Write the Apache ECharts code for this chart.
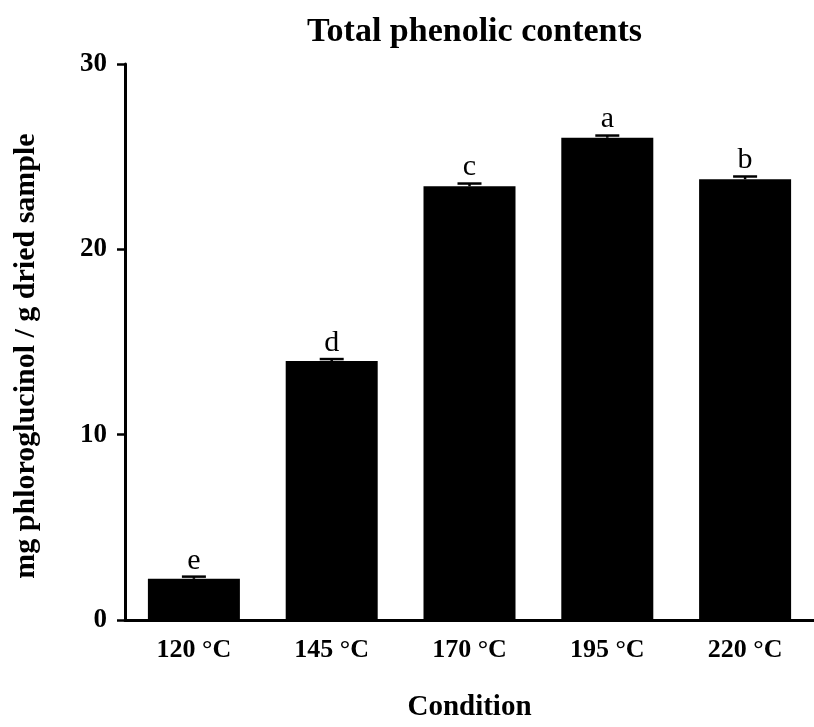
<!DOCTYPE html>
<html>
<head>
<meta charset="utf-8">
<script src="https://cdn.jsdelivr.net/npm/echarts@6/dist/echarts.min.js"></script>
<style>
html,body{margin:0;padding:0;background:#fff;}
#chart{width:814px;height:727px;}
</style>
</head>
<body>
<div id="chart"></div>
<script>
var categories = ['120 \u00B0C', '145 \u00B0C', '170 \u00B0C', '195 \u00B0C', '220 \u00B0C'];
var means = [2.22, 13.97, 23.40, 26.02, 23.78];
var errors = [0.12, 0.11, 0.15, 0.12, 0.15];
var letters = ['e', 'd', 'c', 'a', 'b'];
var yTicks = [0, 10, 20, 30];

var serif = '"Liberation Serif", "Times New Roman", serif';
var chart = echarts.init(document.getElementById('chart'));

var errData = means.map(function (m, i) { return [i, m, errors[i], letters[i]]; });

chart.setOption({
  animation: false,
  backgroundColor: '#fff',
  title: {
    text: 'Total phenolic contents',
    left: 302, top: 10,
    textStyle: { fontFamily: serif, fontWeight: 'bold', fontSize: 34, color: '#000' }
  },
  grid: { left: 125, right: -4, top: 64, bottom: 104, containLabel: false },
  xAxis: {
    type: 'category',
    data: categories,
    name: 'Condition',
    nameLocation: 'middle',
    nameGap: 73,
    nameTextStyle: { fontFamily: serif, fontWeight: 'bold', fontSize: 29, color: '#000' },
    axisLine: { lineStyle: { color: '#000', width: 3 } },
    axisTick: { alignWithLabel: true, length: 8, lineStyle: { color: '#000', width: 2.5 } },
    axisLabel: { margin: 17, fontFamily: serif, fontWeight: 'bold', fontSize: 26, color: '#000' }
  },
  yAxis: {
    type: 'value',
    min: yTicks[0], max: yTicks[yTicks.length - 1], interval: 10,
    name: 'mg phloroglucinol / g dried sample',
    nameLocation: 'middle',
    nameGap: 84,
    nameTextStyle: { fontFamily: serif, fontWeight: 'bold', fontSize: 30, color: '#000', padding: [0, 28, 0, 0] },
    axisLine: { show: true, lineStyle: { color: '#000', width: 3 } },
    axisTick: { show: true, length: 8, lineStyle: { color: '#000', width: 2.5 } },
    splitLine: { show: false },
    axisLabel: { margin: 18, fontFamily: serif, fontWeight: 'bold', fontSize: 27, color: '#000' }
  },
  series: [
    {
      type: 'bar',
      data: means,
      barWidth: 92,
      itemStyle: { color: '#000' },
      z: 2
    },
    {
      type: 'custom',
      data: errData,
      z: 3,
      renderItem: function (params, api) {
        var i = api.value(0), m = api.value(1), e = api.value(2);
        var base = api.coord([i, m]);
        var top = api.coord([i, m + e]);
        var half = 12;
        return {
          type: 'group',
          children: [
            { type: 'line', shape: { x1: top[0], y1: base[1], x2: top[0], y2: top[1] }, style: { stroke: '#000', lineWidth: 2.5 } },
            { type: 'line', shape: { x1: top[0] - half, y1: top[1], x2: top[0] + half, y2: top[1] }, style: { stroke: '#000', lineWidth: 2.5 } },
            { type: 'text', x: top[0], y: top[1] - 1, style: { text: letters[params.dataIndex], fontFamily: serif, fontSize: 30, fill: '#000', align: 'center', verticalAlign: 'bottom' } }
          ]
        };
      }
    }
  ]
});
</script>
</body>
</html>
